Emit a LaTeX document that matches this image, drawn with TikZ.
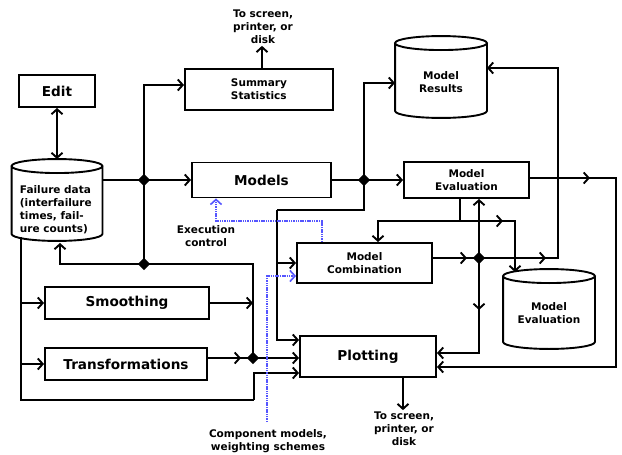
\documentclass[tikz,border=0pt]{standalone}
\usepackage{fontspec}
\setmainfont{DejaVu Sans}
\usetikzlibrary{arrows.meta,shapes.geometric,calc}

\newcommand\bigfont{\fontsize{13.6}{16}\selectfont\bfseries}
\newcommand\smallfont{\fontsize{10.5}{13}\selectfont\bfseries}
\definecolor{ctrlblue}{RGB}{85,85,255}

% outline of a data store drawn round a plain rectangular node
\newcommand\dbcyl[1]{%
  \draw let \p1=(#1.north west), \p2=(#1.south east), \n1={(\x2-\x1)/2} in
    ([yshift=-7pt]#1.north) ellipse [x radius=\n1, y radius=7pt]
    ([yshift=-7pt]#1.north west) -- ([yshift=7pt]#1.south west)
    arc [start angle=180, end angle=360, x radius=\n1, y radius=7pt]
    -- ([yshift=-7pt]#1.north east);
}

\begin{document}
\begin{tikzpicture}[x=1pt,y=-1pt,
  line width=1.9pt,
  >={Straight Barb[length=5pt,width=11pt]},
  bigbox/.style={draw, rectangle, inner sep=0pt, font=\bigfont},
  smallbox/.style={draw, rectangle, inner sep=0pt, font=\smallfont, align=center},
  cylbox/.style={rectangle, inner sep=0pt},
  note/.style={font=\smallfont, align=center, inner sep=1pt},
  ctrl/.style={draw=ctrlblue, line width=1.6pt, dash pattern=on 1.5pt off 0.8pt},
  jdot/.style={diamond, fill, inner sep=0pt, minimum size=13pt}]

\fill[white] (0,0) rectangle (622,455);
\useasboundingbox (0,0) rectangle (622,455);

% ---- blocks
\node[bigbox, minimum width=76pt, minimum height=32pt] (edit) at (57,91) {Edit};
\node[cylbox, minimum width=89pt, minimum height=80pt] (fdata) at (57,200) {};
\node[note, align=left, anchor=west] (fdtxt) at (18,209.5)
  {Failure data\\(interfailure\\times, fail-\\ure counts)};
\node[smallbox, minimum width=148pt, minimum height=41pt, align=left] (summ) at (259,89.5) {Summary\\Statistics};
\node[note] (out1) at (263,27) {To screen,\\printer, or\\disk};
\node[bigbox, minimum width=139pt, minimum height=35pt] (models) at (261.5,180) {Models};
\node[cylbox, minimum width=90pt, minimum height=80pt] (mres) at (441,77) {};
\node[note] (mrestxt) at (441,82.5) {Model\\Results};
\node[smallbox, minimum width=125pt, minimum height=36pt] (meval) at (466.5,180) {Model\\Evaluation};
\node[smallbox, minimum width=135pt, minimum height=40pt] (mcomb) at (364.5,263) {Model\\Combination};
\node[cylbox, minimum width=90pt, minimum height=78pt] (mevdb) at (549,309) {};
\node[note] (mevdbtxt) at (549,313.5) {Model\\Evaluation};
\node[bigbox, minimum width=164pt, minimum height=32pt] (smooth) at (127,303) {Smoothing};
\node[bigbox, minimum width=162pt, minimum height=32pt] (trans) at (126,364) {Transformations};
\node[bigbox, minimum width=136pt, minimum height=41pt] (plot) at (368,356.5) {Plotting};
\node[note] (out2) at (404,429) {To screen,\\printer, or\\disk};
\node[note] (exec) at (206,236) {Execution\\control};
\node[note] (comp) at (268,441.5) {Component models,\\weighting schemes};

\dbcyl{fdata}
\dbcyl{mres}
\dbcyl{mevdb}

% ---- junctions and bends
\coordinate (j1) at (144,180);
\coordinate (j2) at (144,264);
\coordinate (j3) at (253,358);
\coordinate (j4) at (364,180);
\coordinate (j5) at (479,258);
\coordinate (lb) at (21,400);
\coordinate (lc) at (254,400);
\coordinate (k1) at (277,210);
\coordinate (k2) at (558,258);
\coordinate (k3) at (460,221);
\coordinate (k4) at (515,221);
\coordinate (k5) at (479,310);
\coordinate (k6) at (616,178);
\coordinate (e1) at (216,221);
\coordinate (c0) at (267,422);

% ---- data flow
\draw[<->] (edit.south) -- (fdata.north);
\draw (fdata.east |- j1) -- (j1);
\draw[->] (j1) -- (models.west);
\draw[->] (j1) |- ([yshift=4.5pt]summ.west);
\draw[->] ([xshift=3pt]summ.north) -- ([xshift=3pt]summ.north |- out1.south);
\draw (j1) -- (j2);
\draw[->] (j2) -| ([xshift=3pt,yshift=-2pt]fdata.south);
\draw (j2) -| (j3);
\draw[->] (smooth.east) -- (smooth.east -| j3);
\draw (trans.east |- j3) -- (j3);
\draw[->] (trans.east |- j3) -- ([xshift=-12pt]j3);
\draw[->] (j3) -- (plot.west |- j3);
\draw ([xshift=-36pt,yshift=4pt]fdata.south) -- (lb) -- (lc);
\draw[->] (lc) |- ([yshift=-16.5pt]plot.west);
\draw[->] (lb |- smooth.west) -- (smooth.west);
\draw[->] (lb |- trans.west) -- (trans.west);

\draw (models.east) -- (j4);
\draw[->] (j4) -- (meval.west);
\draw[->] (j4) |- ([yshift=-6pt]mres.west);
\draw (j4) |- (k1);
\draw[->] (k1) |- ([yshift=16.5pt]plot.west);
\draw[->] (k1 |- mcomb.west) -- (mcomb.west);

\draw (mcomb.east |- j5) -- (j5);
\draw[->] (mcomb.east |- j5) -- ([xshift=-12pt]j5);
\draw[->] (j5) -- (k2) |- ([yshift=9pt]mres.east);
\draw[->] (j5) -- ([xshift=-12pt]k2);
\draw[->] (j5) -- (j5 |- meval.south);
\draw[->] (j5) |- ([yshift=3.5pt]plot.east);
\draw[->] (j5) -- (k5);

\draw ([xshift=-6.5pt]meval.south) -- (k3);
\draw[->] (k3) -| ([xshift=13.5pt]mcomb.north);
\draw[->] (k3) -- (k4) -- ([xshift=-34pt,yshift=-3pt]mevdb.north);
\draw[->] (k3) -- ([xshift=-12pt]k4);

\draw[->] ([yshift=2pt]meval.east) -- (k6) |- ([yshift=-10.5pt]plot.east);
\draw[->] ([yshift=2pt]meval.east) -- ([xshift=-26pt]k6);
\draw[->] ([xshift=35pt]plot.south) -- ([xshift=35pt]plot.south |- out2.north);

\node[jdot] (d1) at (j1) {};
\node[jdot] (d2) at (j2) {};
\node[jdot] (d3) at (j3) {};
\node[jdot] (d4) at (j4) {};
\node[jdot] (d5) at (j5) {};

% ---- control signals
\draw[ctrl,->] ([xshift=-42.5pt]mcomb.north) |- (e1) -- (e1 |- models.south);
\draw[ctrl,->] (c0) |- ([yshift=-13pt]mcomb.west);

\end{tikzpicture}
\end{document}
